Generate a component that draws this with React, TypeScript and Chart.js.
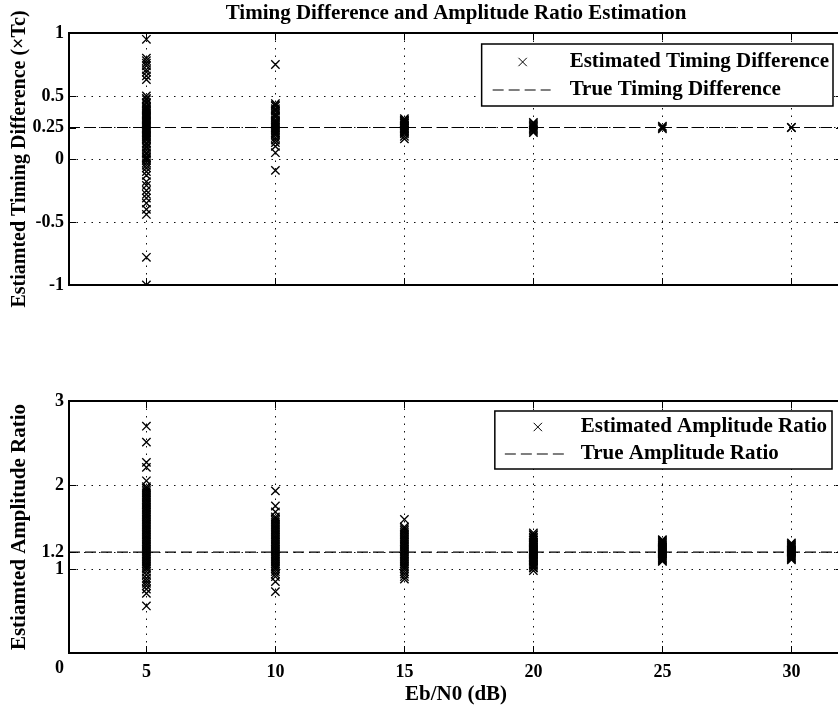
import React, { useEffect, useRef } from "react";
import { Chart, registerables } from "chart.js";

Chart.register(...registerables);

const FONT = "'Liberation Serif', 'Times New Roman', serif";

// ---- data ----
const snrLevels = [5, 10, 15, 20, 25, 30];
const xMin = 2;
const xMax = 32;
const xTicks = [5, 10, 15, 20, 25, 30];

const timingTicks = [-1, -0.5, 0, 0.25, 0.5, 1];
const ampTicks = [0, 1, 1.2, 2, 3];

const trueTiming = 0.25;
const trueAmp = 1.2;

const timingAt5 = [0.95, 0.8, 0.78, 0.76, 0.74, 0.71, 0.69, 0.66, 0.63, 0.5, 0.48, 0.47, 0.45, 0.44, 0.42, 0.41, 0.4, 0.39, 0.38, 0.37, 0.36, 0.35, 0.34, 0.33, 0.32, 0.31, 0.3, 0.29, 0.28, 0.27, 0.26, 0.25, 0.24, 0.23, 0.22, 0.21, 0.2, 0.19, 0.18, 0.17, 0.16, 0.15, 0.13, 0.12, 0.1, 0.09, 0.07, 0.05, 0.04, 0.02, 0.01, 0.0, -0.01, -0.03, -0.05, -0.07, -0.1, -0.13, -0.18, -0.21, -0.25, -0.28, -0.31, -0.35, -0.4, -0.44, -0.78, -1.0];
const timingAt10 = [0.75, 0.44, 0.43, 0.42, 0.4, 0.39, 0.38, 0.36, 0.35, 0.34, 0.33, 0.31, 0.3, 0.29, 0.28, 0.27, 0.26, 0.25, 0.24, 0.23, 0.22, 0.21, 0.2, 0.19, 0.17, 0.15, 0.13, 0.1, 0.05, -0.09];
const timingAt15 = [0.32, 0.31, 0.305, 0.3, 0.29, 0.285, 0.28, 0.27, 0.265, 0.26, 0.25, 0.245, 0.24, 0.23, 0.225, 0.22, 0.21, 0.2, 0.18, 0.16];
const timingAt20 = [0.29, 0.28, 0.27, 0.26, 0.25, 0.24, 0.23, 0.22, 0.21];
const timingAt25 = [0.26, 0.25, 0.24];
const timingAt30 = [0.25, 0.25];

const ampAt5 = [2.7, 2.51, 2.27, 2.21, 2.05, 1.98, 1.96, 1.94, 1.92, 1.9, 1.88, 1.86, 1.84, 1.82, 1.8, 1.78, 1.76, 1.74, 1.72, 1.7, 1.68, 1.66, 1.64, 1.62, 1.6, 1.58, 1.56, 1.54, 1.52, 1.5, 1.48, 1.46, 1.44, 1.42, 1.4, 1.38, 1.36, 1.34, 1.32, 1.3, 1.28, 1.26, 1.24, 1.22, 1.2, 1.18, 1.16, 1.14, 1.12, 1.1, 1.08, 1.06, 1.04, 1.02, 1.0, 0.97, 0.93, 0.89, 0.86, 0.83, 0.8, 0.76, 0.71, 0.56];
const ampAt10 = [1.93, 1.75, 1.68, 1.62, 1.6, 1.58, 1.56, 1.54, 1.52, 1.5, 1.48, 1.46, 1.44, 1.42, 1.4, 1.38, 1.36, 1.34, 1.32, 1.3, 1.28, 1.26, 1.24, 1.22, 1.2, 1.18, 1.16, 1.14, 1.12, 1.1, 1.08, 1.06, 1.04, 1.02, 1.0, 0.97, 0.94, 0.91, 0.85, 0.73];
const ampAt15 = [1.59, 1.5, 1.48, 1.46, 1.44, 1.42, 1.4, 1.38, 1.36, 1.34, 1.32, 1.3, 1.28, 1.26, 1.24, 1.22, 1.2, 1.18, 1.16, 1.14, 1.12, 1.1, 1.08, 1.06, 1.04, 1.02, 1.0, 0.97, 0.94, 0.91, 0.88];
const ampAt20 = [1.43, 1.41, 1.4, 1.38, 1.37, 1.35, 1.34, 1.32, 1.31, 1.3, 1.29, 1.28, 1.27, 1.26, 1.25, 1.24, 1.23, 1.22, 1.21, 1.2, 1.19, 1.18, 1.17, 1.16, 1.15, 1.14, 1.13, 1.12, 1.11, 1.1, 1.09, 1.08, 1.06, 1.05, 1.04, 1.02, 1.01, 0.98];
const ampAt25 = [1.35, 1.34, 1.33, 1.32, 1.31, 1.3, 1.29, 1.28, 1.27, 1.26, 1.25, 1.24, 1.23, 1.22, 1.21, 1.2, 1.19, 1.18, 1.17, 1.16, 1.15, 1.14, 1.13, 1.12, 1.11, 1.1, 1.09];
const ampAt30 = [1.31, 1.3, 1.29, 1.28, 1.27, 1.26, 1.25, 1.24, 1.23, 1.22, 1.21, 1.2, 1.19, 1.18, 1.17, 1.16, 1.15, 1.14, 1.13, 1.12, 1.11];

const timingSeries = [timingAt5, timingAt10, timingAt15, timingAt20, timingAt25, timingAt30];
const ampSeries = [ampAt5, ampAt10, ampAt15, ampAt20, ampAt25, ampAt30];

const titleText = "Timing Difference and Amplitude Ratio Estimation";
const xTitle = "Eb/N0 (dB)";

// ---- helpers ----
const toPoints = (series: number[][]) =>
  snrLevels.flatMap((s, i) => series[i].map((v) => ({ x: s, y: v })));

const MARKER_R = 5.9;
const MARKER_LW = 1.35;
const TICK_LEN = 7;
const TITLE_SIZE = 21;
const TICK_SIZE = 18;
const CANVAS_W = 845;

const framePlugin = {
  id: "matlabFrame",
  afterDraw(chart: any, _args: any, opts: any) {
    const { ctx, chartArea: a, scales } = chart;
    const xs = scales.x;
    const ys = scales.y;
    ctx.save();
    ctx.setLineDash([]);
    ctx.strokeStyle = "#000";
    ctx.lineWidth = 1;
    ctx.beginPath();
    for (const t of xs.ticks) {
      const px = Math.round(xs.getPixelForValue(t.value)) + 0.5;
      ctx.moveTo(px, a.top);
      ctx.lineTo(px, a.top + TICK_LEN);
      ctx.moveTo(px, a.bottom);
      ctx.lineTo(px, a.bottom - TICK_LEN);
    }
    for (const t of ys.ticks) {
      const py = Math.round(ys.getPixelForValue(t.value)) + 0.5;
      ctx.moveTo(a.left, py);
      ctx.lineTo(a.left + TICK_LEN, py);
      ctx.moveTo(a.right, py);
      ctx.lineTo(a.right - TICK_LEN, py);
    }
    ctx.stroke();
    ctx.lineWidth = 2;
    ctx.strokeRect(a.left, a.top, a.right - a.left, a.bottom - a.top);

    // legend
    const lg = opts.legend;
    if (lg) {
      const ds = chart.data.datasets;
      ctx.font = `bold ${TITLE_SIZE}px ${FONT}`;
      const w = Math.max(...ds.map((d: any) => ctx.measureText(d.label).width));
      const boxW = lg.textX + w + lg.padRight;
      const right = a.right - lg.rightInset;
      const left = right - boxW;
      const top = a.top + lg.topInset;
      ctx.fillStyle = "#fff";
      ctx.fillRect(left, top, boxW, lg.height);
      ctx.lineWidth = 1.5;
      ctx.strokeStyle = "#000";
      ctx.strokeRect(left, top, boxW, lg.height);
      // row 1: marker
      const y1 = top + lg.row1;
      const mx = left + lg.markerX;
      const d = MARKER_R * Math.SQRT1_2;
      ctx.lineWidth = 1;
      ctx.beginPath();
      ctx.moveTo(mx - d, y1 - d);
      ctx.lineTo(mx + d, y1 + d);
      ctx.moveTo(mx + d, y1 - d);
      ctx.lineTo(mx - d, y1 + d);
      ctx.stroke();
      // row 2: dashed
      const y2 = top + lg.row2;
      ctx.setLineDash(ds[1].borderDash);
      ctx.lineWidth = ds[1].borderWidth;
      ctx.beginPath();
      ctx.moveTo(left + lg.lineX1, y2);
      ctx.lineTo(left + lg.lineX2, y2);
      ctx.stroke();
      ctx.setLineDash([]);
      ctx.fillStyle = "#000";
      ctx.textAlign = "left";
      ctx.textBaseline = "middle";
      ctx.fillText(ds[0].label, left + lg.textX, y1);
      ctx.fillText(ds[1].label, left + lg.textX, y2);
    }

    // shifted zero label on the y axis
    if (opts.zeroLabel) {
      ctx.font = `bold ${TICK_SIZE}px ${FONT}`;
      ctx.fillStyle = "#000";
      ctx.textAlign = "right";
      ctx.textBaseline = "middle";
      ctx.fillText(String(opts.zeroLabel.value), a.left - 5, ys.getPixelForValue(opts.zeroLabel.value) + opts.zeroLabel.dy);
    }
    ctx.restore();
  },
};

const gridStyle = {
  color: "#111",
  lineWidth: 1,
  drawTicks: false,
};

function makeConfig(p: any) {
  return {
    type: "scatter",
    data: {
      datasets: [
        {
          label: p.estLabel,
          data: p.points,
          pointStyle: "crossRot",
          pointRadius: MARKER_R,
          pointBorderWidth: MARKER_LW,
          pointBorderColor: "#000",
          pointBackgroundColor: "transparent",
          borderColor: "#000",
          showLine: false,
        },
        {
          label: p.trueLabel,
          data: [
            { x: xMin, y: p.trueValue },
            { x: xMax, y: p.trueValue },
          ],
          showLine: true,
          borderColor: "#000",
          borderWidth: 1.2,
          borderDash: [11, 5],
          pointRadius: 0,
        },
      ],
    },
    options: {
      responsive: false,
      animation: false,
      devicePixelRatio: 1,
      events: [],
      layout: { padding: p.padding, autoPadding: false },
      plugins: {
        legend: { display: false },
        tooltip: { enabled: false },
        title: p.title
          ? {
              display: true,
              text: p.title,
              fullSize: false,
              color: "#000",
              font: { family: FONT, size: TITLE_SIZE, weight: "bold", lineHeight: 1.2 },
              padding: { top: 0.9, bottom: 6.9 },
            }
          : { display: false },
        matlabFrame: { legend: p.legend, zeroLabel: p.zeroLabel },
      },
      scales: {
        x: {
          type: "linear",
          min: xMin,
          max: xMax,
          afterBuildTicks: (s: any) => {
            s.ticks = xTicks.map((v) => ({ value: v }));
          },
          afterFit: (s: any) => {
            s.height = p.xHeight;
          },
          grid: gridStyle,
          border: { display: false, dash: [1.5, 6] },
          ticks: {
            display: p.showXLabels,
            padding: 9,
            color: "#000",
            font: { family: FONT, size: TICK_SIZE, weight: "bold" },
            maxRotation: 0,
            callback: (v: any) => String(v),
          },
          title: p.showXLabels
            ? {
                display: true,
                text: xTitle,
                color: "#000",
                font: { family: FONT, size: TITLE_SIZE, weight: "bold", lineHeight: 1.2 },
                padding: { top: 0, bottom: 1.4 },
              }
            : { display: false },
        },
        y: {
          type: "linear",
          min: p.yMin,
          max: p.yMax,
          afterBuildTicks: (s: any) => {
            s.ticks = p.yTicks.map((v: number) => ({ value: v }));
          },
          afterFit: (s: any) => {
            s.width = 69;
          },
          grid: gridStyle,
          border: { display: false, dash: [1.5, 6] },
          ticks: {
            padding: 5,
            color: "#000",
            font: { family: FONT, size: TICK_SIZE, weight: "bold" },
            callback: (v: any) => (p.zeroLabel && v === p.zeroLabel.value ? "" : String(v)),
          },
          title: {
            display: true,
            text: p.yTitle,
            color: "#000",
            font: { family: FONT, size: p.yTitleSize, weight: "bold", lineHeight: 1.2 },
            padding: { top: 20 - p.yTitleSize * 0.6, bottom: 0 },
          },
        },
      },
    },
    plugins: [framePlugin],
  } as any;
}

export default function App() {
  const topRef = useRef<HTMLCanvasElement>(null);
  const botRef = useRef<HTMLCanvasElement>(null);

  useEffect(() => {
    const c1 = new Chart(
      topRef.current!,
      makeConfig({
        estLabel: "Estimated Timing Difference",
        trueLabel: "True Timing Difference",
        points: toPoints(timingSeries),
        trueValue: trueTiming,
        yMin: -1,
        yMax: 1,
        yTicks: timingTicks,
        yTitle: "Estiamted Timing Difference (\u00d7Tc)",
        yTitleSize: 20,
        title: titleText,
        showXLabels: false,
        xHeight: 35,
        padding: { left: 0, right: 2, top: 0, bottom: 0 },
        legend: { rightInset: 10, topInset: 11, height: 62, row1: 18, row2: 46, markerX: 41, lineX1: 11, lineX2: 69, textX: 88, padRight: 4 },
      })
    );
    const c2 = new Chart(
      botRef.current!,
      makeConfig({
        estLabel: "Estimated Amplitude Ratio",
        trueLabel: "True Amplitude Ratio",
        points: toPoints(ampSeries),
        trueValue: trueAmp,
        yMin: 0,
        yMax: 3,
        yTicks: ampTicks,
        yTitle: "Estiamted Amplitude Ratio",
        yTitleSize: 21,
        title: null,
        showXLabels: true,
        xHeight: 56,
        padding: { left: 0, right: 2, top: 101, bottom: 0 },
        legend: { rightInset: 11, topInset: 10, height: 58, row1: 16, row2: 43, markerX: 43, lineX1: 10, lineX2: 71, textX: 86, padRight: 5 },
        zeroLabel: { value: 0, dy: 15 },
      })
    );
    return () => {
      c1.destroy();
      c2.destroy();
    };
  }, []);

  return (
    <div style={{ position: "absolute", left: 0, top: 0, width: 838, height: 709, background: "#fff", overflow: "hidden" }}>
      <canvas ref={topRef} width={CANVAS_W} height={320} style={{ position: "absolute", left: 0, top: 0, width: CANVAS_W, height: 320 }} />
      <canvas ref={botRef} width={CANVAS_W} height={409} style={{ position: "absolute", left: 0, top: 300, width: CANVAS_W, height: 409 }} />
    </div>
  );
}
